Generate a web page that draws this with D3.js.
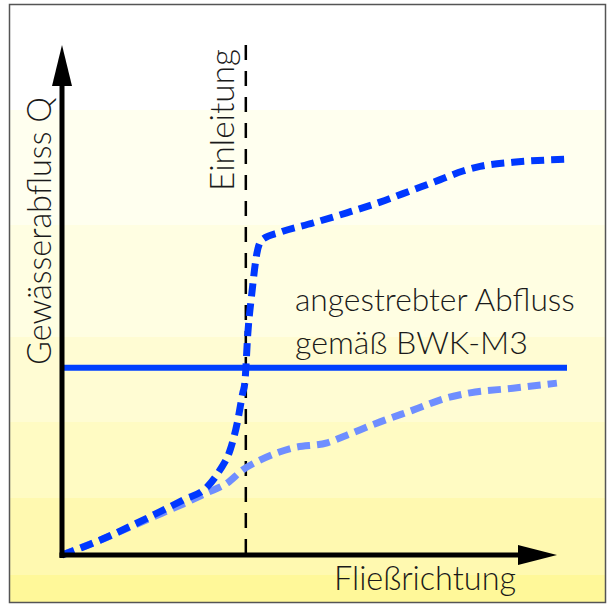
<!DOCTYPE html>
<html><head><meta charset="utf-8">
<script src="https://cdn.jsdelivr.net/npm/d3@7"></script>
<style>html,body{margin:0;padding:0;background:#fff}svg{display:block}</style>
</head><body>
<script>
// ---- data (x = Fließstrecke, y = Gewässerabfluss, relative units 0..100) ----
const darkX = [0, 7.5, 17.4, 24.0, 28.7, 31.3, 33.3, 34.7, 35.8, 36.2, 36.8, 37.6, 38.6, 39.6, 43.2, 49.7, 56.4, 63.0, 69.5, 74.9, 79.4, 82.8, 89.3, 100];
const darkY = [0, 2.9, 7.5, 10.8, 13.3, 16.7, 20.6, 25.9, 31.8, 33.7, 43.5, 51.4, 59.2, 61.8, 63.3, 65.1, 67.1, 69.2, 71.6, 73.6, 75.3, 76.2, 77.0, 77.6];
const lightX = [0, 7.5, 17.4, 24.0, 28.7, 32.7, 35.8, 39.2, 45.7, 52.5, 56.4, 63.0, 69.5, 76.2, 80.8, 89.3, 98.0];
const lightY = [0, 2.9, 7.2, 10.0, 12.2, 14.1, 16.7, 18.6, 21.0, 22.0, 23.5, 26.1, 28.4, 30.8, 31.8, 32.7, 33.7];
const targetQ = 36.7;          // angestrebter Abfluss
const targetEnd = 100;
const einleitungX = 36.4;      // Einleitung position
const labels = {
  yAxis: "Gewässerabfluss Q",
  xAxis: "Fließrichtung",
  inlet: "Einleitung",
  target1: "angestrebter Abfluss",
  target2: "gemäß BWK-M3"
};
const bandEdges = [5, 110, 225, 337, 422, 498, 575, 603];
const bandColors = ["#FFFFFF", "#FFFFEF", "#FFFEE2", "#FFFCD3", "#FFFBC3", "#FFF9B0", "#FFF899"];

const W = 610, H = 605;
const svg = d3.select("body").append("svg").attr("width", W).attr("height", H);

// background bands
svg.selectAll("rect.band").data(bandColors).join("rect")
  .attr("class", "band")
  .attr("x", 9).attr("width", 597)
  .attr("y", (d, i) => bandEdges[i])
  .attr("height", (d, i) => bandEdges[i + 1] - bandEdges[i])
  .attr("fill", d => d);

// frame
svg.append("rect").attr("x", 9.5).attr("y", 4.5).attr("width", 596).attr("height", 598)
  .attr("fill", "none").attr("stroke", "#555").attr("stroke-width", 1.5);

const x = d3.scaleLinear().domain([0, 100]).range([62, 567]);
const y = d3.scaleLinear().domain([0, 100]).range([555, 45]);

const font = "Lato, 'Open Sans', sans-serif";
function fitText(sel, target) {
  const w = sel.node().getComputedTextLength();
  const fs = parseFloat(sel.attr("font-size"));
  sel.attr("font-size", (fs * target / w).toFixed(2));
}

// Einleitung dashed line
svg.append("line")
  .attr("x1", x(einleitungX)).attr("x2", x(einleitungX))
  .attr("y1", y(100)).attr("y2", y(0))
  .attr("stroke", "#000").attr("stroke-width", 2.5)
  .attr("stroke-dasharray", "15,11");

// target line
svg.append("line")
  .attr("x1", x(0)).attr("x2", x(targetEnd))
  .attr("y1", y(targetQ)).attr("y2", y(targetQ))
  .attr("stroke", "#0040FF").attr("stroke-width", 6);

const line = d3.line().x(d => x(d[0])).y(d => y(d[1])).curve(d3.curveMonotoneX);

svg.append("path")
  .attr("d", line(d3.zip(lightX, lightY)))
  .attr("fill", "none").attr("stroke", "#6F8EFF").attr("stroke-width", 7)
  .attr("stroke-dasharray", "13,7");

svg.append("path")
  .attr("d", line(d3.zip(darkX, darkY)))
  .attr("fill", "none").attr("stroke", "#0038FF").attr("stroke-width", 7)
  .attr("stroke-dasharray", "13,7");

// axes with arrowheads
svg.append("line").attr("x1", x(0)).attr("x2", x(0)).attr("y1", y(0) + 3).attr("y2", 82)
  .attr("stroke", "#000").attr("stroke-width", 5);
svg.append("path").attr("d", `M${x(0)},45 L${x(0) - 10},86 L${x(0) + 10},86 Z`).attr("fill", "#000");
svg.append("line").attr("x1", x(0) - 2.5).attr("x2", 522).attr("y1", y(0)).attr("y2", y(0))
  .attr("stroke", "#000").attr("stroke-width", 5);
svg.append("path").attr("d", `M557,${y(0)} L518,${y(0) - 10} L518,${y(0) + 10} Z`).attr("fill", "#000");

// texts
function addText(attrs, str, fs, target) {
  const t = svg.append("text").attr("font-family", font).attr("font-weight", 300)
    .attr("font-size", fs).attr("fill", "#1a1a1a").text(str);
  Object.entries(attrs).forEach(([k, v]) => t.attr(k, v));
  fitText(t, target);
  return t;
}
addText({x: 295, y: 311}, labels.target1, 25, 280);
addText({x: 295, y: 354}, labels.target2, 25, 233);
addText({x: 334, y: 590}, labels.xAxis, 25, 182);
addText({transform: "translate(51,365) rotate(-90)"}, labels.yAxis, 27, 268);
addText({transform: "translate(234,191) rotate(-90)"}, labels.inlet, 24, 142);
</script>
</body></html>
